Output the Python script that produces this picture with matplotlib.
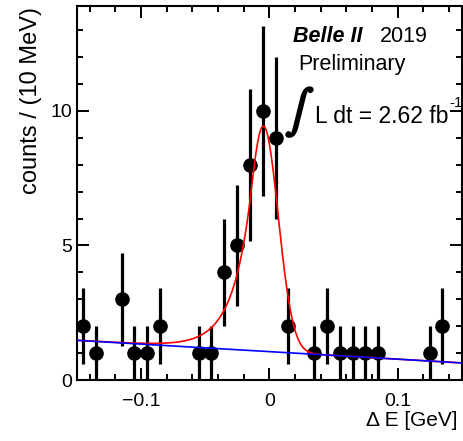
"""
Delta E distribution with Crystal Ball signal + linear background fit (Belle II 2019 style).
"""
import matplotlib
matplotlib.use("Agg")
import matplotlib.pyplot as plt
import matplotlib.patheffects as pe
import numpy as np
from matplotlib.ticker import MultipleLocator, FuncFormatter

plt.rcParams["font.family"] = ["Liberation Sans", "DejaVu Sans"]

# bin centres (GeV) of non-empty 10 MeV bins and their counts
bin_centers = [-0.145, -0.135, -0.115, -0.105, -0.095, -0.085, -0.055, -0.045,
               -0.035, -0.025, -0.015, -0.005, 0.005, 0.015, 0.035, 0.045,
               0.055, 0.065, 0.075, 0.085, 0.125, 0.135]
counts = [2, 1, 3, 1, 1, 2, 1, 1,
          4, 5, 8, 10, 9, 2, 1, 2,
          1, 1, 1, 1, 1, 2]

# fit parameters
sig_mean = -0.0045
sig_sigma = 0.0115
sig_alpha = 0.8
sig_n = 20.0
sig_amp = 8.37
bkg_c0 = 1.055
bkg_c1 = -2.8


def crystal_ball(x):
    t = (x - sig_mean) / sig_sigma
    a = (sig_n / sig_alpha) ** sig_n * np.exp(-0.5 * sig_alpha ** 2)
    b = sig_n / sig_alpha - sig_alpha
    out = np.exp(-0.5 * t ** 2)
    tail = t < -sig_alpha
    out[tail] = a * (b - t[tail]) ** (-sig_n)
    return sig_amp * out


def background(x):
    return bkg_c0 + bkg_c1 * x


def main():
    x = np.array(bin_centers)
    y = np.array(counts, dtype=float)
    err = np.sqrt(y)

    fig = plt.figure(figsize=(4.63, 4.41), dpi=100)
    ax = fig.add_axes([0.1657, 0.1383, 0.8315, 0.8481])

    ax.errorbar(x, y, yerr=err, fmt="o", color="black", markersize=9.5,
                elinewidth=2.3, capsize=0, zorder=2)

    xs = np.linspace(-0.15, 0.15, 1200)
    ax.plot(xs, crystal_ball(xs) + background(xs), color="#ff0000", lw=1.2, zorder=3)
    ax.plot(xs, background(xs), color="#0000ff", lw=1.2, zorder=4)

    ax.set_xlim(-0.15, 0.15)
    ax.set_ylim(0, 13.9)

    ax.xaxis.set_major_locator(MultipleLocator(0.1))
    ax.xaxis.set_minor_locator(MultipleLocator(0.02))
    ax.yaxis.set_major_locator(MultipleLocator(5))
    ax.yaxis.set_minor_locator(MultipleLocator(1))
    ax.xaxis.set_major_formatter(FuncFormatter(
        lambda v, p: "0" if abs(v) < 1e-9 else f"{v:g}".replace("-", "\u2212")))

    ax.tick_params(which="both", direction="in", top=True, right=True, width=1.4)
    ax.tick_params(which="major", length=8.5, labelsize=14)
    ax.tick_params(which="minor", length=4.5)
    ax.tick_params(axis="x", which="major", pad=9)
    ax.tick_params(axis="y", which="major", pad=3.5)
    for sp in ax.spines.values():
        sp.set_linewidth(1.5)

    fig.text(31 / 463, 1 - 7 / 441, "counts / (10 MeV)", rotation=90,
             ha="center", va="top", fontsize=17)
    fig.text(458 / 463, 1 - 425.7 / 441, "\u0394 E [GeV]", ha="right",
             va="baseline", fontsize=15)

    ax.text(0.562, 0.9046, "Belle II", transform=ax.transAxes, fontsize=15.5,
            fontweight="bold", fontstyle="italic", va="baseline")
    ax.text(0.788, 0.9046, "2019", transform=ax.transAxes, fontsize=15.5,
            va="baseline")
    ax.text(0.575, 0.829, "Preliminary", transform=ax.transAxes, fontsize=15.5,
            va="baseline")
    ax.text(0.541, 0.716, r"$\int$", transform=ax.transAxes, fontsize=31,
            math_fontfamily="stix", va="center", ha="left",
            path_effects=[pe.withStroke(linewidth=1.6, foreground="black")])
    ax.text(0.619, 0.687, "L dt = 2.62 fb", transform=ax.transAxes,
            fontsize=16.5, va="baseline")
    ax.text(0.968, 0.730, "-1", transform=ax.transAxes, fontsize=11,
            va="baseline")

    fig.savefig("out.png", dpi=100)
    plt.close(fig)


if __name__ == "__main__":
    main()
